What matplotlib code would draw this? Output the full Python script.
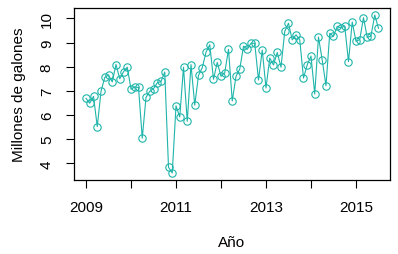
import numpy as np
import matplotlib
matplotlib.use("Agg")
import matplotlib.pyplot as plt

plt.rcParams['font.family'] = ['Liberation Sans', 'DejaVu Sans']

start_year = 2009
values = [6.69, 6.49, 6.77, 5.52, 6.98, 7.56, 7.65, 7.37, 8.09, 7.50, 7.79, 7.98,
          7.07, 7.16, 7.14, 5.04, 6.73, 6.98, 7.09, 7.33, 7.39, 7.78, 3.84, 3.60,
          6.38, 5.92, 7.98, 5.74, 8.09, 6.41, 7.64, 7.96, 8.60, 8.91, 7.48, 8.18,
          7.60, 7.75, 8.72, 6.58, 7.60, 7.90, 8.85, 8.72, 8.97, 8.97, 7.45, 8.69,
          7.12, 8.36, 8.07, 8.59, 7.98, 9.46, 9.80, 9.11, 9.32, 9.11, 7.53, 8.08,
          8.44, 6.87, 9.23, 8.27, 7.21, 9.38, 9.26, 9.67, 9.61, 9.68, 8.21, 9.85,
          9.05, 9.12, 10.03, 9.21, 9.27, 10.14, 9.59]
xticks = [2009, 2010, 2011, 2012, 2013, 2014, 2015]
xticklabels = ["2009", "", "2011", "", "2013", "", "2015"]
yticks = [4, 5, 6, 7, 8, 9, 10]
xlabel = "Año"
ylabel = "Millones de galones"

t = start_year + np.arange(len(values)) / 12.0

fig = plt.figure(figsize=(3.98, 2.55), dpi=100)
ax = fig.add_axes([74/398, 1-181/255, (390-74)/398, (181-9)/255])
color = '#1FB5AA'
ax.plot(t, values, color=color, lw=0.8, marker='o', mfc='none', mec=color,
        ms=5.3, mew=0.8)

ax.set_xlim(2008.733, 2015.756)
ax.set_ylim(3.31, 10.43)
ax.set_xticks(xticks)
ax.set_xticklabels(xticklabels)
ax.set_yticks(yticks)
ax.set_yticklabels([str(v) for v in yticks], rotation=90, va='center')

ax.tick_params(direction='out', length=6, width=0.8, color='black',
               labelsize=11, pad=8.5)
for s in ax.spines.values():
    s.set_linewidth(0.9)
    s.set_color('black')

ax.set_xlabel(xlabel, fontsize=11, labelpad=15)
ax.set_ylabel(ylabel, fontsize=11, labelpad=10)

fig.savefig("out.png", dpi=100)
